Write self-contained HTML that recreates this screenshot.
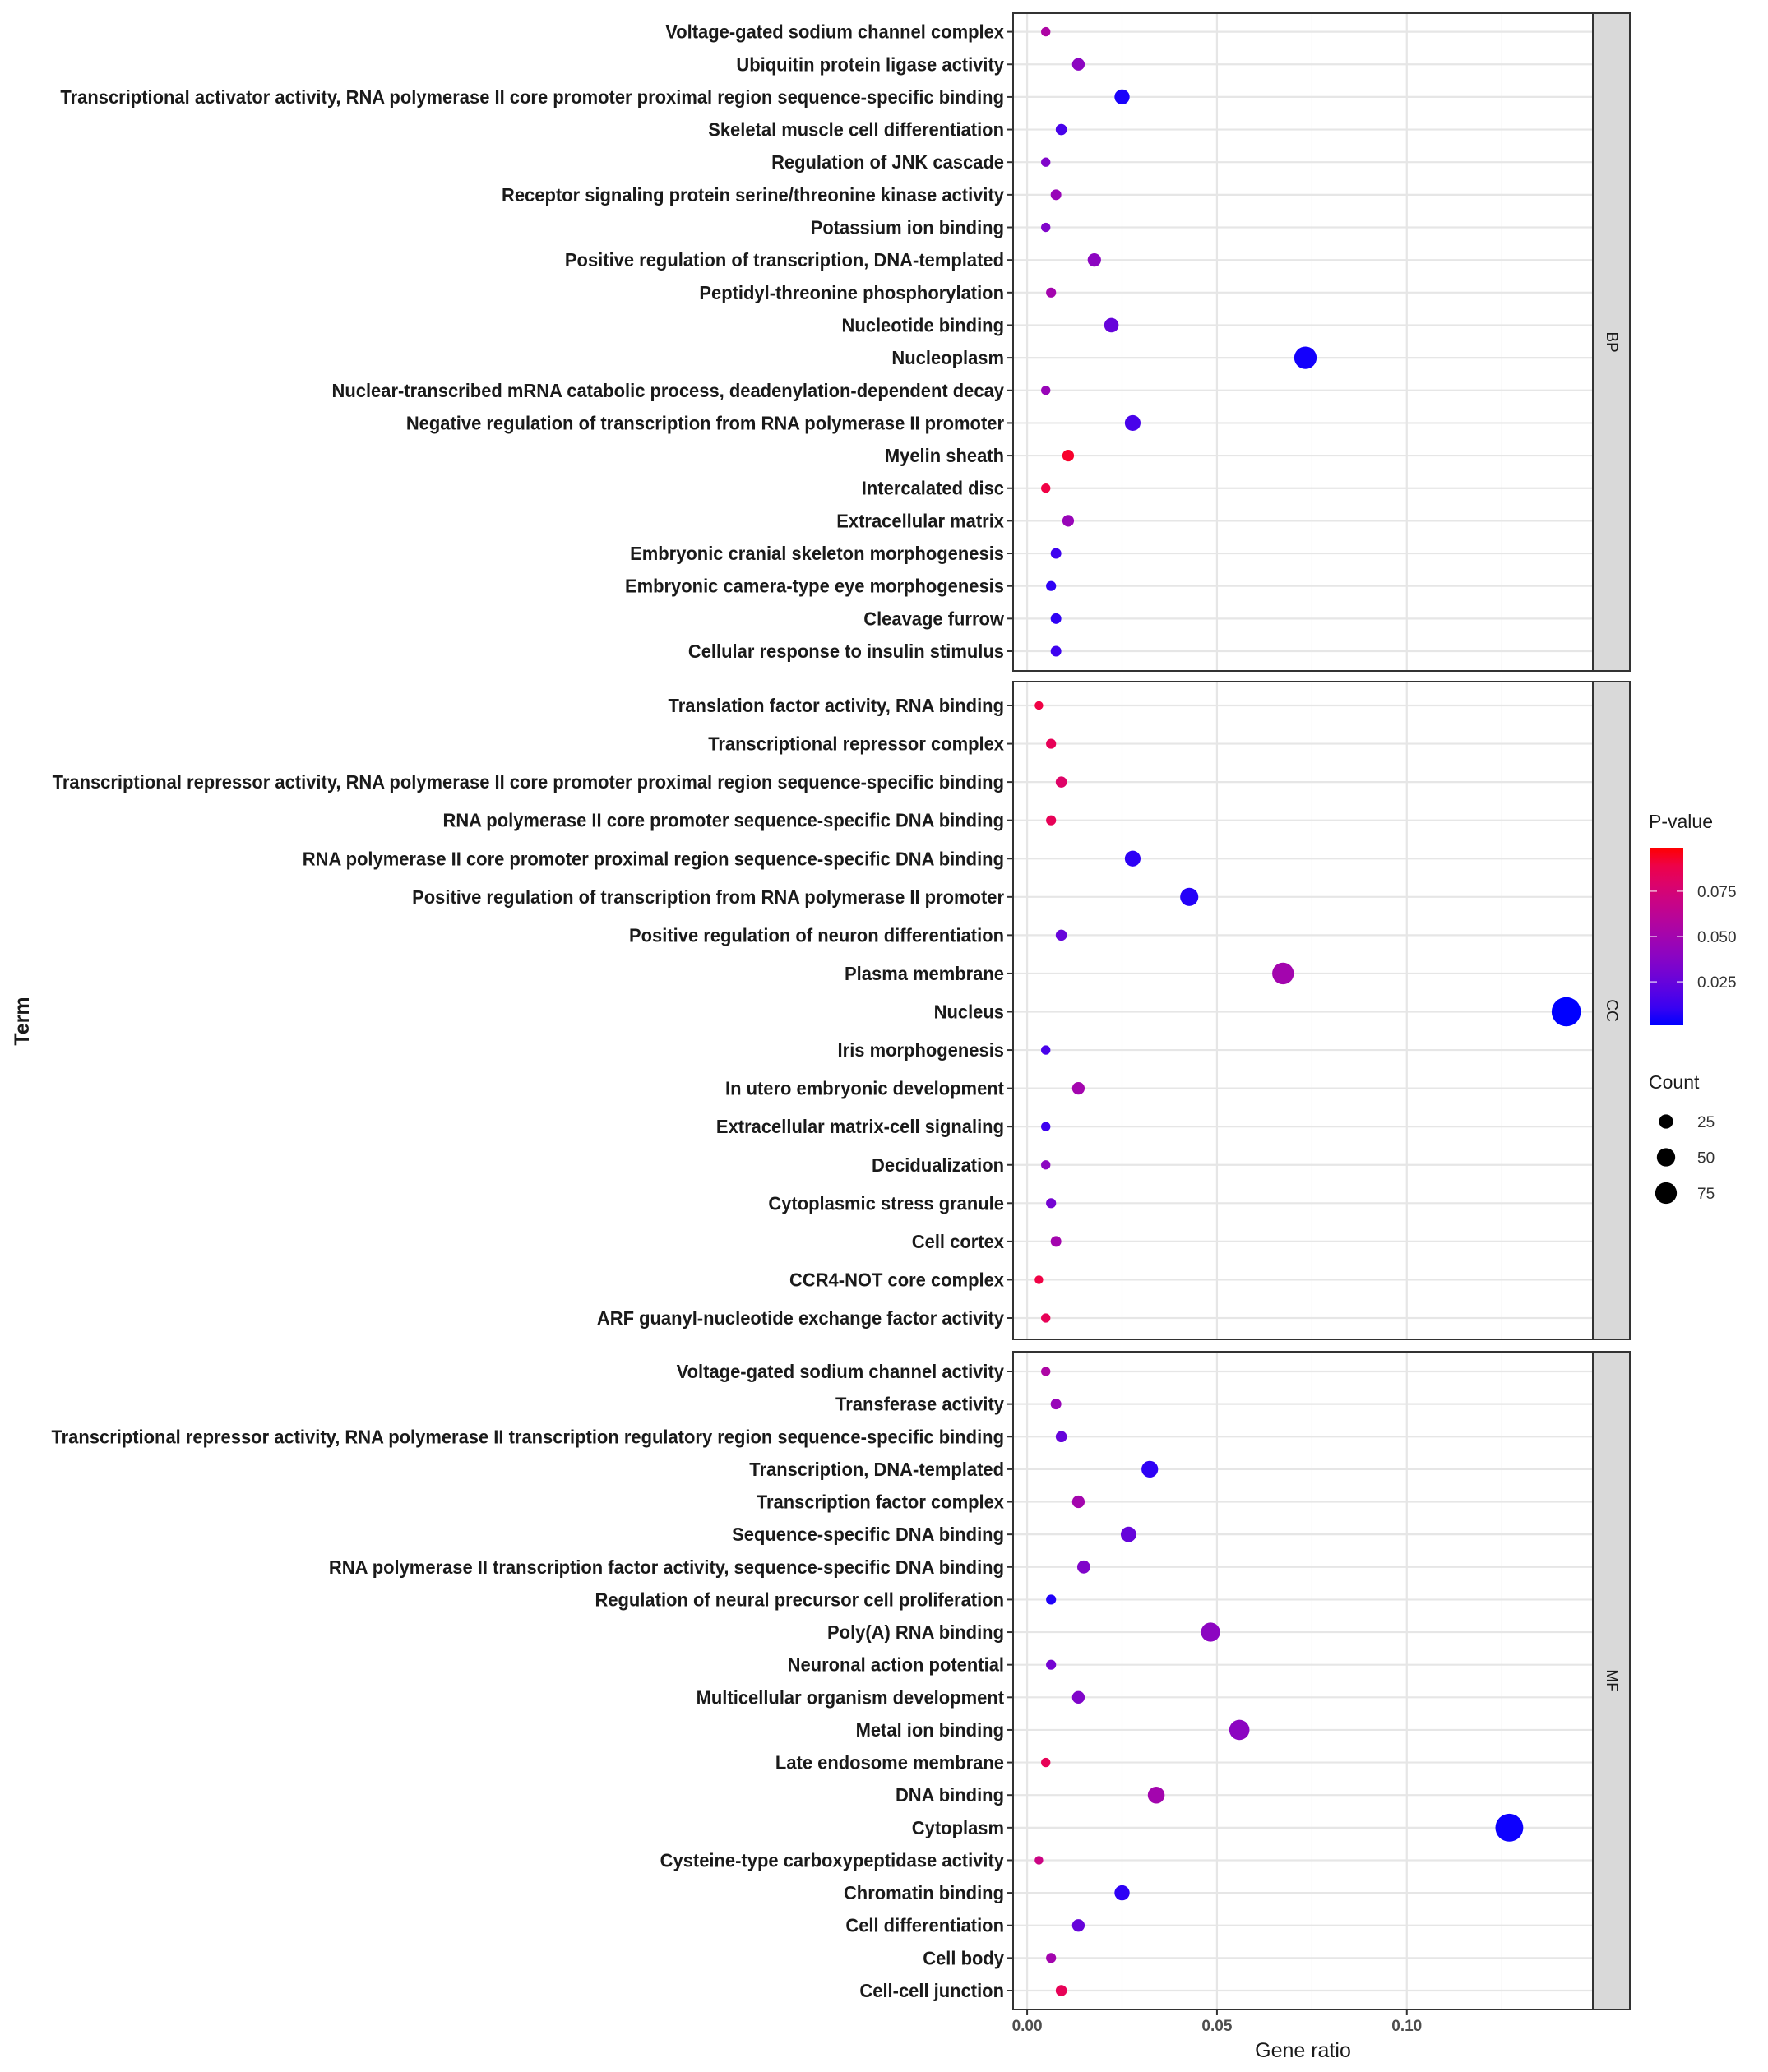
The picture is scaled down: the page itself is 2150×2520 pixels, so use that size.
<!DOCTYPE html>
<html><head><meta charset="utf-8"><style>
html,body{margin:0;padding:0;background:#fff;}
svg{display:block;font-family:"Liberation Sans",Arial,sans-serif;}
</style></head><body>
<svg id="chart" width="2150" height="2520" viewBox="0 0 2150 2520" xmlns="http://www.w3.org/2000/svg"></svg>
<script>
const bpTerms=["Voltage-gated sodium channel complex","Ubiquitin protein ligase activity","Transcriptional activator activity, RNA polymerase II core promoter proximal region sequence-specific binding","Skeletal muscle cell differentiation","Regulation of JNK cascade","Receptor signaling protein serine/threonine kinase activity","Potassium ion binding","Positive regulation of transcription, DNA-templated","Peptidyl-threonine phosphorylation","Nucleotide binding","Nucleoplasm","Nuclear-transcribed mRNA catabolic process, deadenylation-dependent decay","Negative regulation of transcription from RNA polymerase II promoter","Myelin sheath","Intercalated disc","Extracellular matrix","Embryonic cranial skeleton morphogenesis","Embryonic camera-type eye morphogenesis","Cleavage furrow","Cellular response to insulin stimulus"];
const bpRatio=[0.0049,0.0135,0.025,0.009,0.0049,0.0076,0.0049,0.0177,0.0063,0.0222,0.0733,0.0049,0.0278,0.0108,0.0049,0.0108,0.0076,0.0063,0.0076,0.0076];
const bpP=[0.055,0.04,0.004,0.015,0.035,0.045,0.035,0.04,0.05,0.025,0.003,0.045,0.015,0.095,0.09,0.045,0.012,0.008,0.008,0.012];
const bpCount=[3,9,16,6,3,5,3,11,4,14,47,3,18,7,3,7,5,4,5,5];
const ccTerms=["Translation factor activity, RNA binding","Transcriptional repressor complex","Transcriptional repressor activity, RNA polymerase II core promoter proximal region sequence-specific binding","RNA polymerase II core promoter sequence-specific DNA binding","RNA polymerase II core promoter proximal region sequence-specific DNA binding","Positive regulation of transcription from RNA polymerase II promoter","Positive regulation of neuron differentiation","Plasma membrane","Nucleus","Iris morphogenesis","In utero embryonic development","Extracellular matrix-cell signaling","Decidualization","Cytoplasmic stress granule","Cell cortex","CCR4-NOT core complex","ARF guanyl-nucleotide exchange factor activity"];
const ccRatio=[0.0031,0.0063,0.009,0.0063,0.0278,0.0427,0.009,0.0674,0.142,0.0049,0.0135,0.0049,0.0049,0.0063,0.0076,0.0031,0.0049];
const ccP=[0.09,0.085,0.08,0.085,0.008,0.006,0.025,0.05,0.001,0.015,0.05,0.012,0.04,0.03,0.05,0.09,0.085];
const ccCount=[2,4,6,4,18,27,6,43,91,3,9,3,3,4,5,2,3];
const mfTerms=["Voltage-gated sodium channel activity","Transferase activity","Transcriptional repressor activity, RNA polymerase II transcription regulatory region sequence-specific binding","Transcription, DNA-templated","Transcription factor complex","Sequence-specific DNA binding","RNA polymerase II transcription factor activity, sequence-specific DNA binding","Regulation of neural precursor cell proliferation","Poly(A) RNA binding","Neuronal action potential","Multicellular organism development","Metal ion binding","Late endosome membrane","DNA binding","Cytoplasm","Cysteine-type carboxypeptidase activity","Chromatin binding","Cell differentiation","Cell body","Cell-cell junction"];
const mfRatio=[0.0049,0.0076,0.009,0.0323,0.0135,0.0267,0.0149,0.0063,0.0483,0.0063,0.0135,0.0559,0.0049,0.034,0.127,0.0031,0.025,0.0135,0.0063,0.009];
const mfP=[0.055,0.045,0.025,0.008,0.05,0.025,0.035,0.005,0.04,0.03,0.035,0.04,0.085,0.05,0.002,0.07,0.008,0.025,0.05,0.085];
const mfCount=[3,5,6,21,9,17,10,4,31,4,9,36,3,22,81,2,16,9,4,6];
const xTicks=[0,0.05,0.1];
const xTickLabels=["0.00","0.05","0.10"];
const pTicks=[0.025,0.05,0.075];
const pTickLabels=["0.025","0.050","0.075"];
const countBreaks=[25,50,75];

const NS="http://www.w3.org/2000/svg";
const svg=document.getElementById('chart');
function mk(tag,attrs,parent){const e=document.createElementNS(NS,tag);for(const k in attrs)e.setAttribute(k,attrs[k]);(parent||svg).appendChild(e);return e;}
const PL=1232,PR=1937,SR=1982;
const xMin=-0.0037,xMax=0.149;
function xs(v){return PL+(v-xMin)/(xMax-xMin)*(PR-PL);}
const pMin=0.001,pMax=0.099;
function col(p){let t=(p-pMin)/(pMax-pMin);t=Math.max(0,Math.min(1,t));const r=Math.round(255*Math.pow(t,0.65)),b=Math.round(255*Math.pow(1-t,0.55)),g=Math.round(20*t*(1-t));return `rgb(${r},${g},${b})`;}
function rad(c){return 3+1.55*Math.sqrt(c);}
const panels=[
 {name:'BP',terms:bpTerms,ratio:bpRatio,p:bpP,count:bpCount,top:16,bottom:816,first:38.6,last:792},
 {name:'CC',terms:ccTerms,ratio:ccRatio,p:ccP,count:ccCount,top:829,bottom:1629,first:858,last:1603},
 {name:'MF',terms:mfTerms,ratio:mfRatio,p:mfP,count:mfCount,top:1644,bottom:2444,first:1668,last:2421}
];
panels.forEach(pn=>{
 const g=mk('g',{});
 
 
 mk('rect',{x:PL,y:pn.top,width:PR-PL,height:pn.bottom-pn.top,fill:'#fff'},g);
 const minor=[0.025,0.075,0.125];
 minor.forEach(v=>mk('line',{x1:xs(v),x2:xs(v),y1:pn.top,y2:pn.bottom,stroke:'#f2f2f2','stroke-width':1.2},g));
 xTicks.forEach(v=>mk('line',{x1:xs(v),x2:xs(v),y1:pn.top,y2:pn.bottom,stroke:'#e6e6e6','stroke-width':2.2},g));
 const n=pn.terms.length,step=(pn.last-pn.first)/(n-1);
 pn.terms.forEach((t,i)=>{
  const y=pn.first+i*step;
  mk('line',{x1:PL,x2:PR,y1:y,y2:y,stroke:'#e6e6e6','stroke-width':2.2},g);
  mk('line',{x1:PL-7,x2:PL,y1:y,y2:y,stroke:'#333','stroke-width':2},g);
  const tx=mk('text',{x:0,y:0,'text-anchor':'end','font-size':23,'font-weight':'bold',fill:'#1a1a1a',transform:`translate(${PL-11} ${y+8}) scale(0.955 1)`},g);
  
  
  tx.textContent=t;
 });
 pn.terms.forEach((t,i)=>{
  const y=pn.first+i*step;
  const c=mk('circle',{cx:xs(pn.ratio[i]),cy:y,r:rad(pn.count[i]),fill:col(pn.p[i])},g);
  
  
 });
 mk('rect',{x:PL,y:pn.top,width:PR-PL,height:pn.bottom-pn.top,fill:'none',stroke:'#333','stroke-width':2},g);
 const s=mk('rect',{x:PR,y:pn.top,width:SR-PR,height:pn.bottom-pn.top,fill:'#d9d9d9',stroke:'#333','stroke-width':2},g);
 
 
 const cy=(pn.top+pn.bottom)/2,cx=(PR+SR)/2;
 const st=mk('text',{x:cx,y:cy,'text-anchor':'middle','dominant-baseline':'central','font-size':19,fill:'#1a1a1a',transform:`rotate(90 ${cx} ${cy})`},g);
 
 
 st.textContent=pn.name;
});
xTicks.forEach((v,i)=>{
 mk('line',{x1:xs(v),x2:xs(v),y1:2444,y2:2451,stroke:'#333','stroke-width':2});
 const t=mk('text',{x:xs(v),y:2470,'text-anchor':'middle','font-size':19,'font-weight':'bold',fill:'#4d4d4d'});
 
 
 t.textContent=xTickLabels[i];
});
const xt=mk('text',{x:(PL+PR)/2,y:2502,'text-anchor':'middle','font-size':25,fill:'#1a1a1a'});


xt.textContent='Gene ratio';
const yt=mk('text',{x:27,y:1242,'text-anchor':'middle','font-size':25,'font-weight':'bold',fill:'#1a1a1a',transform:'rotate(-90 27 1242)','dominant-baseline':'central'});


yt.textContent='Term';
const lg=mk('g',{});


const LX=2005;
const pt=mk('text',{x:LX,y:1007,'font-size':23,fill:'#1a1a1a'},lg);


pt.textContent='P-value';
const defs=mk('defs',{});
const grad=mk('linearGradient',{id:'pg',x1:0,y1:1,x2:0,y2:0},defs);
for(let k=0;k<=10;k++){const p=pMin+(pMax-pMin)*k/10;mk('stop',{offset:k/10,'stop-color':col(p)},grad);}
const CB_T=1031,CB_B=1247;
function py(p){return CB_B-(p-pMin)/(pMax-pMin)*(CB_B-CB_T);}
const cb=mk('rect',{x:LX+2,y:CB_T,width:40,height:CB_B-CB_T,fill:'url(#pg)'},lg);


pTicks.forEach((p,i)=>{
 const y=py(p);
 mk('line',{x1:LX+2,x2:LX+10,y1:y,y2:y,stroke:'#fff','stroke-width':1.5,opacity:0.7},lg);
 mk('line',{x1:LX+34,x2:LX+42,y1:y,y2:y,stroke:'#fff','stroke-width':1.5,opacity:0.7},lg);
 const t=mk('text',{x:LX+59,y:y+7,'font-size':19,fill:'#333'},lg);
 
 
 t.textContent=pTickLabels[i];
});
const ct=mk('text',{x:LX,y:1324,'font-size':23,fill:'#1a1a1a'},lg);


ct.textContent='Count';
countBreaks.forEach((c,i)=>{
 const y=1364+i*43.5;
 const k=mk('circle',{cx:LX+21,cy:y,r:rad(c)*0.8,fill:'#000'},lg);
 
 
 const t=mk('text',{x:LX+59,y:y+7,'font-size':19,fill:'#333'},lg);
 
 
 t.textContent=String(c);
});
</script>
</body></html>
